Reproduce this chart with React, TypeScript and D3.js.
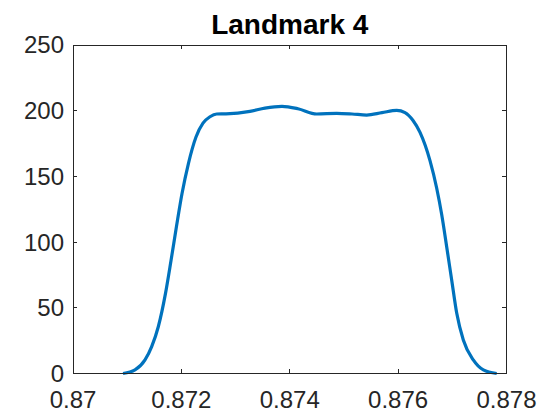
import React from "react";
import * as d3 from "d3";

const title = "Landmark 4";
const xTicks = [0.87, 0.872, 0.874, 0.876, 0.878];
const xTickLabels = ["0.87", "0.872", "0.874", "0.876", "0.878"];
const yTicks = [0, 50, 100, 150, 200, 250];
const xValues = [
  0.870923, 0.871144, 0.871329, 0.871452, 0.871574, 0.871707, 0.871809,
  0.87191, 0.872012, 0.872131, 0.87227, 0.872399, 0.872528, 0.872652,
  0.872824, 0.873266, 0.873543, 0.873857, 0.874152, 0.874497, 0.874866,
  0.875149, 0.87542, 0.875702, 0.875974, 0.876127, 0.876275, 0.876404,
  0.876588, 0.876712, 0.876804, 0.876896, 0.876989, 0.877081, 0.877203,
  0.877387, 0.877572, 0.877819,
];
const yValues = [
  0, 2.7, 10.3, 20.4, 35.6, 61, 86, 112, 137, 160, 180, 190.5, 195.4, 197.5,
  197.6, 199.5, 202, 203.3, 201.5, 197.5, 198, 197.5, 196.7, 198.5, 200.2,
  198.5, 192.5, 183.5, 162, 141, 121, 96.5, 71, 46, 25.5, 10.3, 2.7, 0,
];

const W = 560;
const H = 420;
const left = 73;
const right = 506.5;
const top = 45;
const bottom = 373.5;
const font = "'Liberation Sans', Arial, Helvetica, sans-serif";
const axisColor = "#262626";

export default function App() {
  const x = d3.scaleLinear().domain([0.87, 0.878]).range([left, right]);
  const y = d3.scaleLinear().domain([0, 250]).range([bottom, top]);
  const pts: [number, number][] = xValues.map((v, i) => [v, yValues[i]]);
  const line = d3
    .line<[number, number]>()
    .x((d) => x(d[0]))
    .y((d) => y(d[1]))
    .curve(d3.curveMonotoneX);
  const tl = 4.3;
  return (
    <svg
      width={W}
      height={H}
      style={{ position: "absolute", left: 0, top: 0, background: "#fff" }}
    >
      <rect x={0} y={0} width={W} height={H} fill="#fff" />
      <path
        d={line(pts) || ""}
        fill="none"
        stroke="#0072BD"
        strokeWidth={3.2}
        strokeLinejoin="round"
        strokeLinecap="butt"
      />
      <rect
        x={left}
        y={top}
        width={right - left}
        height={bottom - top}
        fill="none"
        stroke={axisColor}
        strokeWidth={1}
        shapeRendering="crispEdges"
      />
      {xTicks.map((t, i) => (
        <g key={"x" + i}>
          <line x1={x(t)} x2={x(t)} y1={bottom} y2={bottom - tl} stroke={axisColor} shapeRendering="crispEdges" />
          <line x1={x(t)} x2={x(t)} y1={top} y2={top + tl} stroke={axisColor} shapeRendering="crispEdges" />
          <text
            x={x(t)}
            y={408.3}
            textAnchor="middle"
            fontFamily={font}
            fontSize={24}
            fill={axisColor}
          >
            {xTickLabels[i]}
          </text>
        </g>
      ))}
      {yTicks.map((t, i) => (
        <g key={"y" + i}>
          <line x1={left} x2={left + tl} y1={y(t)} y2={y(t)} stroke={axisColor} shapeRendering="crispEdges" />
          <line x1={right} x2={right - tl} y1={y(t)} y2={y(t)} stroke={axisColor} shapeRendering="crispEdges" />
          <text
            x={left - 9}
            y={y(t) + 8.4}
            textAnchor="end"
            fontFamily={font}
            fontSize={24}
            fill={axisColor}
          >
            {t}
          </text>
        </g>
      ))}
      <text
        x={(left + right) / 2}
        y={33.5}
        textAnchor="middle"
        fontFamily={font}
        fontSize={28}
        fontWeight="bold"
        fill="#000"
      >
        {title}
      </text>
    </svg>
  );
}
